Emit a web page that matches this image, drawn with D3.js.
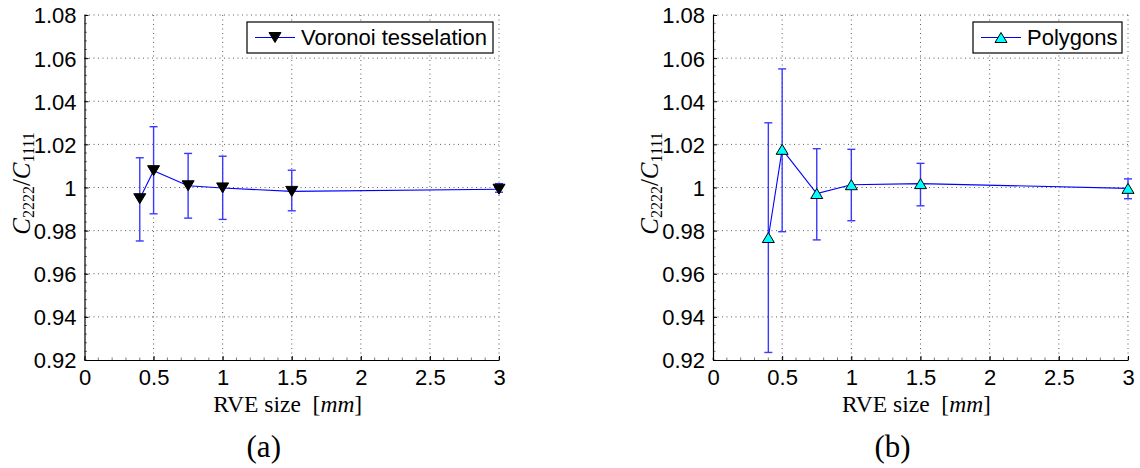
<!DOCTYPE html>
<html>
<head>
<meta charset="utf-8">
<script src="https://cdn.jsdelivr.net/npm/d3@7"></script>
<style>
  html, body { margin: 0; padding: 0; background: #fff; }
  svg { display: block; }
</style>
</head>
<body>
<svg id="chart" width="1140" height="468"></svg>
<script>
// ---------- data ----------
const rveSizes = [0.4, 0.5, 0.75, 1, 1.5, 3];

const voronoiMean = [0.9948, 1.0078, 1.0008, 0.9998, 0.9982, 0.9992];
const voronoiLow  = [0.9752, 0.9878, 0.9858, 0.9852, 0.9892, 0.9978];
const voronoiHigh = [1.0138, 1.0282, 1.0158, 1.0145, 1.0080, 1.0018];

const polygonMean = [0.9768, 1.0177, 0.9972, 1.0013, 1.0018, 0.9996];
const polygonLow  = [0.9235, 0.9795, 0.9757, 0.9846, 0.9915, 0.9948];
const polygonHigh = [1.0300, 1.0550, 1.0180, 1.0177, 1.0112, 1.0040];

const xTicks = [0, 0.5, 1, 1.5, 2, 2.5, 3];
const xTickLabels = ["0", "0.5", "1", "1.5", "2", "2.5", "3"];
const yTicks = [0.92, 0.94, 0.96, 0.98, 1.00, 1.02, 1.04, 1.06, 1.08];
const yTickLabels = ["0.92", "0.94", "0.96", "0.98", "1", "1.02", "1.04", "1.06", "1.08"];
const xMinorTicks = d3.range(0, 31).map(i => i / 10);
const yMinorTicks = d3.range(0, 41).map(i => +(0.92 + i * 0.004).toFixed(4));

const legendNames = ["Voronoi tesselation", "Polygons"];
const panelLetters = ["(a)", "(b)"];

// ---------- layout ----------
const svg = d3.select("#chart");
const panels = [
  { left: 84.5, right: 499, top: 15, bottom: 360, mean: voronoiMean, low: voronoiLow, high: voronoiHigh,
    marker: "down", fill: "#000000", name: legendNames[0], letter: panelLetters[0],
    legend: { x: 247, y: 22, w: 246, h: 31 } },
  { left: 713, right: 1128, top: 15, bottom: 360, mean: polygonMean, low: polygonLow, high: polygonHigh,
    marker: "up", fill: "#00ffff", name: legendNames[1], letter: panelLetters[1],
    legend: { x: 973, y: 22, w: 149, h: 31 } }
];

const tickFont = "Liberation Sans, Arial, Helvetica, sans-serif";
const serifFont = "Liberation Serif, Times New Roman, serif";

function markerPath(kind) {
  const w = 12, h = 10;
  if (kind === "down") {
    return `M${-w/2},${-h/2}L${w/2},${-h/2}L0,${h/2}Z`;
  }
  return `M${-w/2},${h/2}L${w/2},${h/2}L0,${-h/2}Z`;
}

panels.forEach(p => {
  const x = d3.scaleLinear().domain([0, 3]).range([p.left, p.right]);
  const y = d3.scaleLinear().domain([0.92, 1.08]).range([p.bottom, p.top]);
  const g = svg.append("g");

  // grid (dotted)
  g.append("g").selectAll("line").data(xTicks.slice(1)).join("line")
    .attr("x1", d => x(d)).attr("x2", d => x(d))
    .attr("y1", p.top).attr("y2", p.bottom)
    .attr("stroke", "#333").attr("stroke-width", 0.8).attr("stroke-dasharray", "1,3.5");
  g.append("g").selectAll("line").data(yTicks.slice(1)).join("line")
    .attr("x1", p.left).attr("x2", p.right)
    .attr("y1", d => y(d)).attr("y2", d => y(d))
    .attr("stroke", "#333").attr("stroke-width", 0.8).attr("stroke-dasharray", "1,3.5");

  // minor ticks
  g.append("g").selectAll("line").data(xMinorTicks).join("line")
    .attr("x1", d => x(d)).attr("x2", d => x(d))
    .attr("y1", p.bottom).attr("y2", p.bottom - 2.5)
    .attr("stroke", "#555").attr("stroke-width", 0.8);
  g.append("g").selectAll("line").data(yMinorTicks).join("line")
    .attr("x1", p.left).attr("x2", p.left + 2.5)
    .attr("y1", d => y(d)).attr("y2", d => y(d))
    .attr("stroke", "#555").attr("stroke-width", 0.8);

  // axes
  const xAxis = d3.axisBottom(x).tickValues(xTicks).tickFormat((d, i) => xTickLabels[i])
    .tickSizeInner(-4).tickSizeOuter(0).tickPadding(9);
  const gx = g.append("g").attr("transform", `translate(0,${p.bottom})`).call(xAxis);
  gx.select(".domain").attr("stroke", "#000").attr("stroke-width", 1.2);
  gx.selectAll(".tick line").attr("stroke", "#000");
  gx.selectAll(".tick text").attr("font-family", tickFont).attr("font-size", 22).attr("fill", "#000");

  const yAxis = d3.axisLeft(y).tickValues(yTicks).tickFormat((d, i) => yTickLabels[i])
    .tickSizeInner(-4).tickSizeOuter(0).tickPadding(8);
  const gy = g.append("g").attr("transform", `translate(${p.left},0)`).call(yAxis);
  gy.select(".domain").attr("stroke", "#000").attr("stroke-width", 1.2);
  gy.selectAll(".tick line").attr("stroke", "#000");
  gy.selectAll(".tick text").attr("font-family", tickFont).attr("font-size", 22).attr("fill", "#000")
    .attr("dy", "0.36em");

  // error bars
  const eb = g.append("g");
  const capHalf = 4;
  rveSizes.forEach((v, i) => {
    const cx = x(v);
    eb.append("line").attr("x1", cx).attr("x2", cx).attr("y1", y(p.low[i])).attr("y2", y(p.high[i]))
      .attr("stroke", "#3a3aff").attr("stroke-width", 1.4);
    [p.low[i], p.high[i]].forEach(e => {
      eb.append("line").attr("x1", cx - capHalf).attr("x2", cx + capHalf).attr("y1", y(e)).attr("y2", y(e))
        .attr("stroke", "#3a3aff").attr("stroke-width", 1.4);
    });
  });

  // data line
  const line = d3.line().x((d, i) => x(rveSizes[i])).y(d => y(d));
  g.append("path").datum(p.mean).attr("d", line)
    .attr("fill", "none").attr("stroke", "#0000ff").attr("stroke-width", 1.1);

  // markers
  g.append("g").selectAll("path").data(p.mean).join("path")
    .attr("transform", (d, i) => `translate(${x(rveSizes[i])},${y(d)})`)
    .attr("d", markerPath(p.marker))
    .attr("fill", p.fill).attr("stroke", "#000").attr("stroke-width", 1);

  // legend
  const L = p.legend;
  const lg = g.append("g");
  lg.append("rect").attr("x", L.x).attr("y", L.y).attr("width", L.w).attr("height", L.h)
    .attr("fill", "#fff").attr("stroke", "#000").attr("stroke-width", 1.2);
  const ly = L.y + L.h / 2;
  lg.append("line").attr("x1", L.x + 8).attr("x2", L.x + 48).attr("y1", ly).attr("y2", ly)
    .attr("stroke", "#0000ff").attr("stroke-width", 1.1);
  lg.append("path").attr("transform", `translate(${L.x + 28},${ly})`).attr("d", markerPath(p.marker))
    .attr("fill", p.fill).attr("stroke", "#000").attr("stroke-width", 1);
  lg.append("text").attr("x", L.x + 54).attr("y", ly).attr("dy", "0.36em")
    .attr("font-family", tickFont).attr("font-size", 22).attr("fill", "#000").text(p.name);

  // x axis title
  const midX = (p.left + p.right) / 2;
  const xt = g.append("text").attr("x", midX - 4).attr("y", 412).attr("text-anchor", "middle")
    .attr("font-family", serifFont).attr("font-size", 23.5).attr("fill", "#000");
  xt.append("tspan").text("RVE size\u00a0\u00a0[");
  xt.append("tspan").attr("font-style", "italic").text("mm");
  xt.append("tspan").text("]");

  // y axis title
  const midY = (p.top + p.bottom) / 2 - 4;
  const yt = g.append("text").attr("transform", `translate(${p.left - 55},${midY}) rotate(-90)`)
    .attr("text-anchor", "middle").attr("font-family", serifFont).attr("font-size", 25).attr("fill", "#000");
  yt.append("tspan").attr("font-style", "italic").text("C");
  yt.append("tspan").attr("font-size", 16).attr("dy", 4).text("2222");
  yt.append("tspan").attr("dy", -4).text("/");
  yt.append("tspan").attr("font-style", "italic").text("C");
  yt.append("tspan").attr("font-size", 16).attr("dy", 4).text("1111");

  // panel letter
  g.append("text").attr("x", midX - 28).attr("y", 457).attr("text-anchor", "middle")
    .attr("font-family", serifFont).attr("font-size", 31).attr("fill", "#000").text(p.letter);
});
</script>
</body>
</html>
